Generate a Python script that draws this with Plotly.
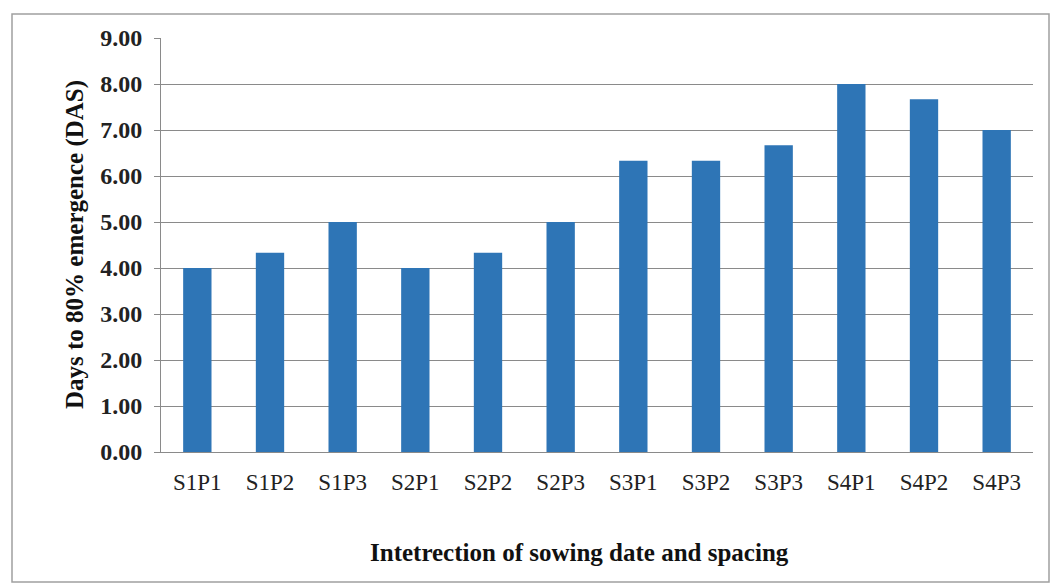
import plotly.graph_objects as go

categories = ["S1P1", "S1P2", "S1P3", "S2P1", "S2P2", "S2P3",
              "S3P1", "S3P2", "S3P3", "S4P1", "S4P2", "S4P3"]
values = [4.00, 4.33, 5.00, 4.00, 4.33, 5.00, 6.33, 6.33, 6.67, 8.00, 7.67, 7.00]
y_title = "Days to 80% emergence (DAS)"
x_title = "Intetrection of sowing date and spacing"

OFF = 8  # page body margin
W, H = 1061, 585
L, R, T, B = 161, 28, 38, 133
PW, PH = W - L - R, H - T - B

fig = go.Figure(go.Bar(x=categories, y=values, marker_color="#2E75B6",
                       marker_line_width=0))

font = "Liberation Serif, Times New Roman, serif"
fig.update_layout(
    width=W - OFF, height=H - OFF,
    margin=dict(l=L - OFF, r=R, t=T - OFF, b=B),
    paper_bgcolor="white", plot_bgcolor="white",
    bargap=0.61,
    showlegend=False,
    font=dict(family=font, color="#222222"),
)
fig.update_yaxes(range=[0, 9], dtick=1, tickformat=".2f",
                 showgrid=True, gridcolor="#8a8a8a", gridwidth=1,
                 showline=True, linecolor="#8a8a8a", linewidth=1,
                 ticks="outside", ticklen=6, tickcolor="#8a8a8a",
                 ticklabelstandoff=7,
                 tickfont=dict(family=font, size=24, color="#222222", weight="bold"),
                 zeroline=False)
fig.update_xaxes(showline=True, linecolor="#8a8a8a", linewidth=1,
                 ticks="", ticklabelstandoff=9,
                 tickfont=dict(family=font, size=23, color="#222222"))

# axis titles
fig.add_annotation(text=y_title, xref="paper", yref="paper",
                   x=(75 - L) / PW, y=0.5, textangle=-90,
                   showarrow=False, xanchor="center", yanchor="middle",
                   font=dict(family=font, size=25, color="#111111", weight="bold"))
fig.add_annotation(text=x_title, xref="paper", yref="paper",
                   x=(579 - L) / PW, y=-(552 - (H - B)) / PH,
                   showarrow=False, xanchor="center", yanchor="middle",
                   font=dict(family=font, size=25, color="#111111", weight="bold"))

# chart border
fig.add_shape(type="rect", xref="paper", yref="paper",
              x0=(12 - L) / PW, x1=(1049 - L) / PW,
              y0=-(582 - (H - B)) / PH, y1=1 + (T - 14) / PH,
              line=dict(color="#a0a0a0", width=1.5), layer="below")

fig.write_html("out.html")
